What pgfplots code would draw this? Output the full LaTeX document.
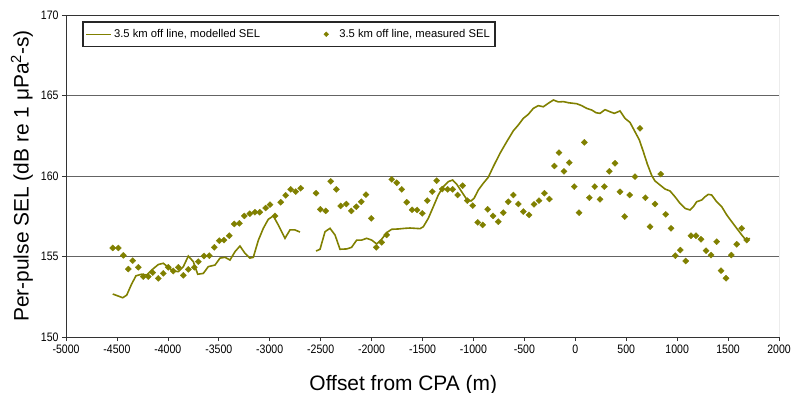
\documentclass[border=0pt]{standalone}
\usepackage{pgfplots}
\pgfplotsset{compat=1.18}
\usepackage{graphicx}
\usepackage{fontspec}
\setmainfont{Liberation Sans}
\definecolor{selcol}{RGB}{128,128,0}
\definecolor{gridcol}{RGB}{100,100,100}
\begin{document}
\begin{tikzpicture}
\begin{axis}[
  scale only axis, width=713bp, height=322bp,
  xmin=-5000, xmax=2000, ymin=150, ymax=170,
  xtick={-5000,-4500,...,2000}, ytick={150,155,160,165,170},
  /pgf/number format/assume math mode=true,
  /pgf/number format/1000 sep={},
  scaled ticks=false,
  xticklabel={\scalebox{0.86}[1]{\pgfmathprintnumber{\tick}}},
  yticklabel={\scalebox{0.86}[1]{\pgfmathprintnumber{\tick}}},
  axis x line*=bottom, axis y line*=left,
  axis line style={black!80, line width=0.8pt, -},
  ymajorgrids, major grid style={draw=gridcol, line width=0.9pt},
  tick align=outside, major tick length=4bp,
  tick style={black!80, line width=0.6pt},
  tick label style={font=\fontsize{12.3}{14}\selectfont},
  xlabel={Offset from CPA (m)},
  ylabel={Per-pulse SEL (dB re 1 μPa\textsuperscript{2}-s)},
  label style={font=\fontsize{21}{25}\selectfont},
  xlabel style={at={(axis description cs:0.473,0)}, anchor=base, yshift=-53bp},
  ylabel style={at={(axis description cs:-0.0617,0.5)}, anchor=center},
  legend columns=2,
  legend style={at={(axis description cs:0.0224,0.981)}, anchor=north west,
    draw=black!85, line width=1.6pt, fill=white,
    font=\fontsize{11.3}{13}\selectfont, inner ysep=5.5bp, inner xsep=3bp,
    /tikz/every even column/.append style={column sep=58bp}},
]
\draw[gridcol, line width=0.9pt] (axis cs:2000,150) -- (axis cs:2000,170);
\draw[black!80, line width=0.9pt] (axis cs:-5000,170) -- (axis cs:2000,170);
\addplot[selcol, line width=1.6pt, mark=none, legend image code/.code={\draw[line width=1.3pt] (0bp,0bp) -- (25bp,0bp);}] table {
x y
-4541 152.67
-4443 152.44
-4404 152.6
-4355 153.3
-4313 153.8
-4257 153.9
-4208 153.85
-4159 154.16
-4094 154.5
-4045 154.58
-3996 154.33
-3947 154.1
-3897 154.06
-3848 154.37
-3799 155.03
-3750 154.68
-3707 153.9
-3652 153.95
-3603 154.37
-3537 154.47
-3488 154.9
-3439 154.95
-3390 154.78
-3341 155.3
-3292 155.65
-3243 155.2
-3194 154.9
-3161 154.95
-3112 156.0
-3063 156.75
-3014 157.31
-2965 157.52
-2916 156.96
-2850 156.13
-2801 156.65
-2752 156.65
-2703 156.52
};
\addlegendentry{3.5 km off line, modelled SEL}
\addplot[selcol, only marks, mark=diamond*, mark size=3.4bp, mark options={fill=selcol, draw=selcol, line width=0.3pt, xscale=1.22, yscale=0.9},
  legend image code/.code={\path[draw=none] (0bp,0bp) -- (17bp,0bp); \path[draw=none, mark=diamond*, mark size=2.6bp, mark options={draw=selcol, fill=selcol, line width=0.3pt, xscale=1.22, yscale=0.9}] plot coordinates {(6bp,0bp)};}] table {
x y
-4541 155.53
-4486 155.53
-4437 155.07
-4388 154.22
-4345 154.74
-4290 154.33
-4241 153.75
-4192 153.75
-4149 154.0
-4094 153.64
-4045 153.95
-3996 154.33
-3947 154.1
-3897 154.33
-3848 153.83
-3799 154.2
-3740 154.33
-3701 154.68
-3645 155.03
-3593 155.05
-3544 155.57
-3495 155.98
-3449 156.02
-3397 156.29
-3348 157.02
-3298 157.06
-3249 157.52
-3195 157.66
-3145 157.75
-3098 157.75
-3040 158.01
-2997 158.22
-2948 157.52
-2892 158.37
-2843 158.8
-2794 159.17
-2745 159.03
-2696 159.24
-2545 158.93
-2503 157.93
-2450 157.83
-2401 159.67
-2346 159.17
-2303 158.14
-2248 158.26
-2199 157.83
-2150 158.09
-2101 158.4
-2055 158.84
-2003 157.37
-1954 155.57
-1901 155.88
-1852 156.34
-1802 159.79
-1753 159.58
-1704 159.17
-1655 158.37
-1602 157.9
-1553 157.89
-1502 157.68
-1453 158.47
-1404 159.03
-1361 159.71
-1306 159.19
-1253 159.17
-1204 159.17
-1155 158.82
-1106 159.4
-1060 158.47
-1007 158.16
-958 157.12
-909 156.96
-860 157.93
-807 157.52
-756 157.16
-707 157.72
-658 158.4
-608 158.82
-559 158.26
-510 157.79
-454 157.58
-405 158.24
-356 158.47
-303 158.93
-254 158.57
-205 160.62
-160 161.45
-111 160.29
-59 160.83
-10 159.34
37 157.72
89 162.09
138 158.65
191 159.34
243 158.55
285 159.34
334 160.29
390 160.79
439 159.02
485 157.48
534 158.82
586 159.96
635 162.96
688 158.65
734 156.85
783 158.26
839 160.12
888 157.62
940 156.75
982 155.05
1031 155.4
1084 154.72
1136 156.29
1185 156.29
1234 156.07
1284 155.36
1333 155.09
1388 155.92
1431 154.12
1480 153.65
1532 155.09
1585 155.76
1634 156.75
1683 156.02
};
\addlegendentry{3.5 km off line, measured SEL}
\addplot[selcol, line width=1.6pt, mark=none, forget plot] table {
x y
-2545 155.34
-2506 155.45
-2457 156.54
-2408 156.75
-2359 156.34
-2310 155.45
-2244 155.47
-2196 155.57
-2146 156.02
-2097 156.02
-2048 156.13
-1999 156.02
-1950 155.78
-1901 156.07
-1852 156.48
-1802 156.69
-1737 156.71
-1672 156.75
-1623 156.77
-1524 156.73
-1492 156.85
-1443 157.37
-1394 158.09
-1345 158.82
-1296 159.34
-1247 159.65
-1204 159.75
-1165 159.5
-1115 159.02
-1066 158.55
-1024 158.45
-994 158.61
-952 159.13
-903 159.55
-854 159.92
-805 160.58
-739 161.41
-673 162.13
-608 162.81
-559 163.17
-510 163.58
-461 163.83
-412 164.2
-363 164.37
-314 164.3
-264 164.52
-215 164.72
-166 164.6
-117 164.62
-67 164.55
14 164.49
63 164.37
112 164.2
161 164.1
204 163.93
243 163.89
292 164.12
341 163.99
383 163.89
439 164.04
488 163.58
537 163.33
586 162.75
629 162.24
668 161.51
708 160.73
751 160.02
783 159.69
832 159.44
881 159.19
930 159.07
979 158.71
1028 158.3
1077 157.99
1126 157.89
1159 158.09
1192 158.4
1241 158.51
1274 158.71
1306 158.86
1339 158.82
1388 158.4
1438 158.09
1487 157.58
1536 157.16
1585 156.75
1634 156.34
1676 156.02
1715 156.13
};
\end{axis}
\pgfresetboundingbox
\path[use as bounding box] ([shift={(-66bp,-56bp)}]current axis.south west) rectangle ([shift={(19bp,15bp)}]current axis.north east);
\end{tikzpicture}
\end{document}
